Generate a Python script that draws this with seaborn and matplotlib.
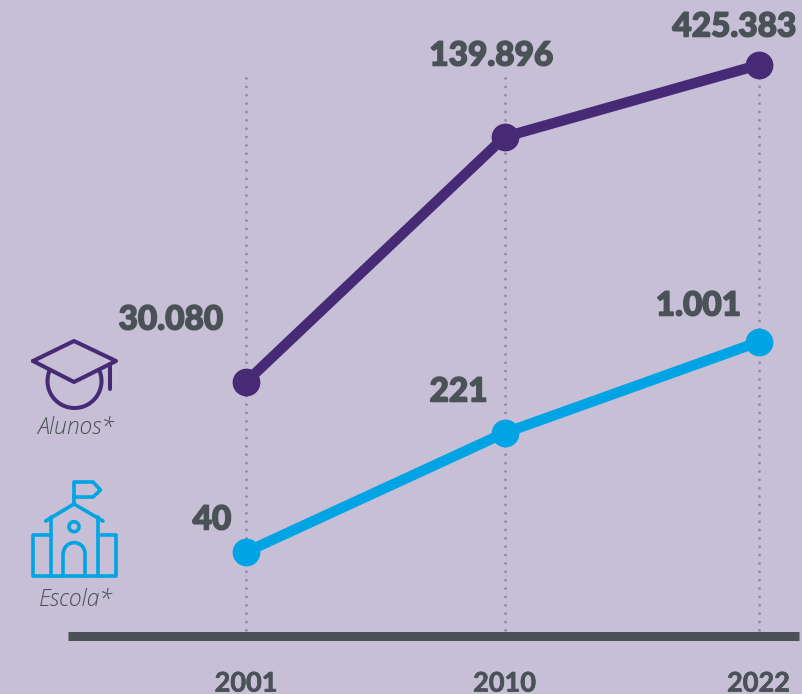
import pandas as pd
import numpy as np
import matplotlib
matplotlib.use("Agg")
import matplotlib.pyplot as plt
import matplotlib.patheffects as pe
import seaborn as sns
from matplotlib.patches import Arc, Circle

# ==========================
# DATA
# ==========================

anos = ["2001", "2010", "2022"]
posicao_anos = [0, 258.5, 512.5]

# heights as drawn in the picture, the published numbers are only labels
alunos_altura = [253, 498, 570]
escola_altura = [83, 202, 293]

alunos_rotulos = ["30.080", "139.896", "425.383"]
escola_rotulos = ["40", "221", "1.001"]

ROXO = "#472a75"
AZUL = "#00a3e4"
ESCURO = "#4a5157"
FUNDO = "#c6bfd6"
PONTILHADO = "#8f889f"

df = pd.DataFrame({
    "x": posicao_anos * 2,
    "altura": alunos_altura + escola_altura,
    "serie": ["Alunos"] * 3 + ["Escola"] * 3,
})

# ==========================
# FIGURE
# ==========================

sns.set_style("white")
plt.rcParams["font.family"] = ["Lato", "DejaVu Sans"]

fig = plt.figure(figsize=(8.02, 6.94), dpi=100, facecolor=FUNDO)
ax = fig.add_axes([0, 0, 1, 1], facecolor=FUNDO)
ax.set_xlim(-246, 556)
ax.set_ylim(-59, 635)

# pixel helpers for the hand drawn icons
def px(x):
    return x - 246

def py(y):
    return 635 - y

# ==========================
# DOTTED GUIDES
# ==========================

for x in posicao_anos:
    ax.plot([x, x], [py(78), 0], color=PONTILHADO, lw=2.0,
            linestyle=(0, (0.01, 3.0)), dash_capstyle="round", zorder=1)

# ==========================
# LINES
# ==========================

sns.lineplot(
    data=df, x="x", y="altura", hue="serie",
    palette={"Alunos": ROXO, "Escola": AZUL},
    marker="o", markersize=20, markeredgewidth=0,
    linewidth=7.5, legend=False, errorbar=None, ax=ax, zorder=3
)

# ==========================
# VALUE LABELS
# ==========================

grosso = [pe.withStroke(linewidth=1.1, foreground=ESCURO)]

deslocamento_alunos = [(-75, 62), (-13, 81), (-24, 38)]
deslocamento_escola = [(-34, 32), (-46, 41), (-60, 36)]

for x, y, txt, d in zip(posicao_anos, alunos_altura, alunos_rotulos, deslocamento_alunos):
    ax.annotate(txt, (x, y), xytext=(d[0] * 0.72, d[1] * 0.72), textcoords="offset points",
                ha="center", va="center", fontsize=24, fontweight="black", color=ESCURO,
                path_effects=grosso)

for x, y, txt, d in zip(posicao_anos, escola_altura, escola_rotulos, deslocamento_escola):
    ax.annotate(txt, (x, y), xytext=(d[0] * 0.72, d[1] * 0.72), textcoords="offset points",
                ha="center", va="center", fontsize=24, fontweight="black", color=ESCURO,
                path_effects=grosso)

# ==========================
# AXIS
# ==========================

for lado in ["top", "left", "right"]:
    ax.spines[lado].set_visible(False)

ax.spines["bottom"].set_position(("data", -0.5))
ax.spines["bottom"].set_bounds(px(68), px(799))
ax.spines["bottom"].set_linewidth(6.5)
ax.spines["bottom"].set_color(ESCURO)
ax.spines["bottom"].set_capstyle("butt")
ax.spines["bottom"].set_zorder(4)

ax.set_xticks(posicao_anos)
ax.set_xticklabels(anos, fontsize=19.5, fontweight="bold", color=ESCURO)
for t in ax.get_xticklabels():
    t.set_path_effects([pe.withStroke(linewidth=0.5, foreground=ESCURO)])
ax.tick_params(axis="x", length=0, pad=26)
ax.set_yticks([])
ax.set_xlabel("")
ax.set_ylabel("")

# ==========================
# ICONS
# ==========================

def linha(pontos, cor, lw=2.9):
    xs = [px(p[0]) for p in pontos]
    ys = [py(p[1]) for p in pontos]
    ax.plot(xs, ys, color=cor, lw=lw, solid_capstyle="round",
            solid_joinstyle="round", zorder=2)

# graduation cap
linha([(33, 361), (74, 341), (116, 361), (74, 382), (33, 361)], ROXO)
linha([(110, 364), (110, 389)], ROXO)
ax.add_patch(Arc((px(74.5), py(381)), 54, 54, theta1=157, theta2=383,
                 color=ROXO, lw=2.9, zorder=2))

# school
linha([(74, 503), (74, 482), (93, 482), (100.5, 490), (93, 497), (74, 497)], AZUL, 2.6)
linha([(45.7, 521), (74, 504), (103, 521)], AZUL, 2.6)
linha([(50.7, 517), (50.7, 576)], AZUL, 2.6)
linha([(98.3, 517), (98.3, 576)], AZUL, 2.6)
linha([(50.7, 535), (32.8, 535), (32.8, 576), (116, 576), (116, 535), (98.3, 535)], AZUL, 2.6)
linha([(63.3, 576), (63.3, 553.5)], AZUL, 2.6)
linha([(85, 576), (85, 553.5)], AZUL, 2.6)
ax.add_patch(Arc((px(74.15), py(553.5)), 21.7, 21.7, theta1=0, theta2=180,
                 color=AZUL, lw=2.6, zorder=2))
ax.add_patch(Circle((px(74), py(526.7)), 5, fill=False, edgecolor=AZUL, lw=2.6, zorder=2))

ax.text(px(75.5), py(428), "Alunos*", ha="center", va="center", fontsize=16.5,
        family="Open Sans", style="italic", fontweight="light", color=ESCURO)
ax.text(px(75.5), py(600), "Escola*", ha="center", va="center", fontsize=16.5,
        family="Open Sans", style="italic", fontweight="light", color=ESCURO)

plt.savefig("out.png", dpi=100, facecolor=FUNDO)
